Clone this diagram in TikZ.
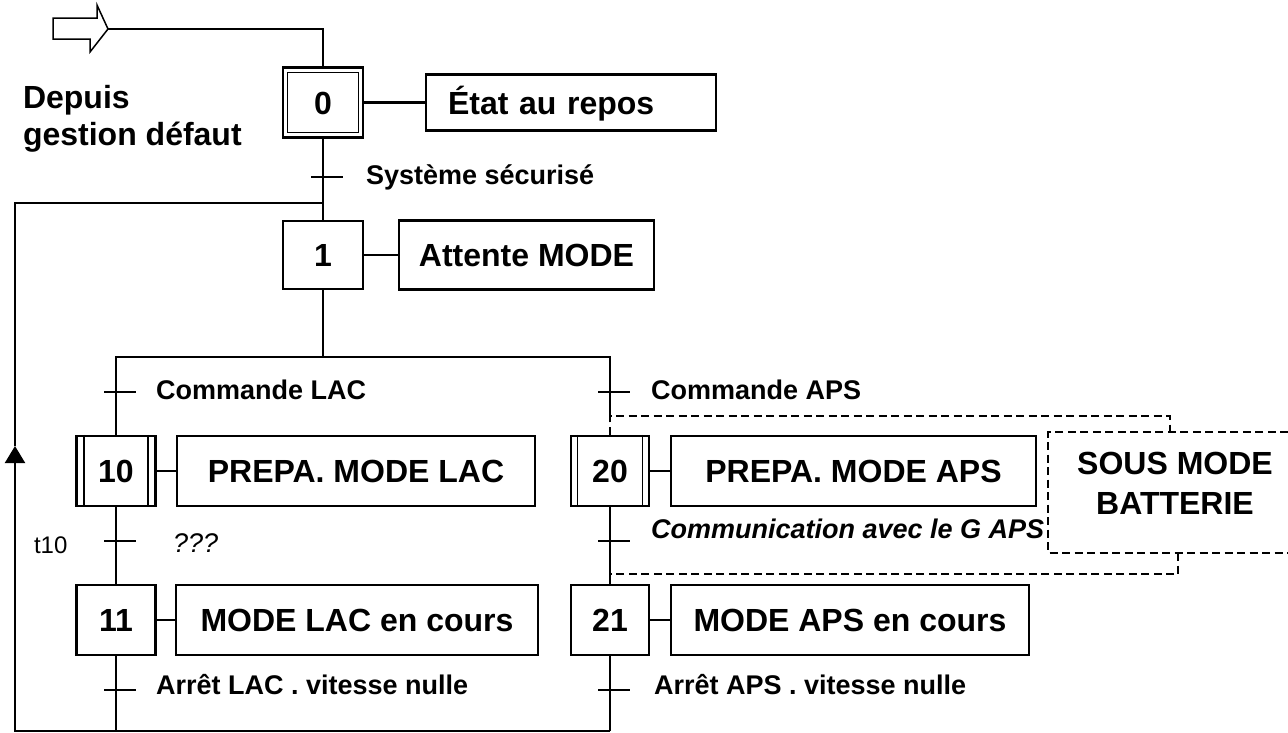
\documentclass[tikz,border=0pt]{standalone}
\usepackage{fontspec}
\setmainfont{Liberation Sans}
\usetikzlibrary{arrows.meta}
\begin{document}
\begin{tikzpicture}[x=1pt,y=-1pt,line width=2.1pt,
  bigfont/.style={font=\fontsize{32}{36}\selectfont\bfseries},
  stepbox/.style={draw,bigfont,minimum width=79pt,minimum height=70pt,inner sep=0pt,text height=23pt,text depth=0pt},
  actbox/.style={draw,bigfont,minimum height=70pt,inner sep=0pt,text height=23pt,text depth=0pt},
  cond/.style={anchor=base west,inner sep=0pt,font=\fontsize{27}{30}\selectfont\bfseries},
  condit/.style={cond,font=\fontsize{27}{30}\selectfont\bfseries\itshape},
  note/.style={anchor=base west,inner sep=0pt,bigfont},
  encl/.style={line width=1.7pt,dash pattern=on 8pt off 4.5pt},
  trans/.style={line width=1.8pt}]
\useasboundingbox (0,0) rectangle (1288,732);

% steps
\node[stepbox,minimum width=80pt] (s0) at (323,102.5) {0};
\node[stepbox,minimum width=80pt,minimum height=68pt] (s1) at (323,255) {1};
\node[stepbox] (s10) at (116,471) {10};
\node[stepbox] (s11) at (116,620) {11};
\node[stepbox,minimum width=78pt] (s20) at (610,471) {20};
\node[stepbox,minimum width=78pt] (s21) at (610,620) {21};

% initial step: inner frame
\draw[line width=1.6pt] ([shift={(5.5pt,-6pt)}]s0.north west) rectangle ([shift={(-5.5pt,6pt)}]s0.south east);
% macro-steps: inner vertical bars
\foreach \s/\d in {s10/8.5,s20/7.5}{
  \draw[line width=1.5pt] ([xshift=\d pt]\s.north west) -- ([xshift=\d pt]\s.south west);
  \draw[line width=1.5pt] ([xshift=-\d pt]\s.north east) -- ([xshift=-\d pt]\s.south east);
}

% actions
\node[actbox,minimum height=56pt,text width=246pt,align=left,inner xsep=22pt] (etat) at (571,102.5) {État au repos};
\node[actbox,minimum width=255pt,minimum height=69pt] (attente) at (526.5,255) {Attente MODE};
\node[actbox,minimum width=358pt] (prepaLAC) at (356,471) {PREPA. MODE LAC};
\node[actbox,minimum width=365pt] (prepaAPS) at (853.5,471) {PREPA. MODE APS};
\node[actbox,minimum width=362pt] (lacCours) at (357,620) {MODE LAC en cours};
\node[actbox,minimum width=358pt] (apsCours) at (850,620) {MODE APS en cours};

\foreach \a/\b in {s0/etat,s1/attente,s10/prepaLAC,s20/prepaAPS,s11/lacCours,s21/apsCours}
  \draw (\a.east) -- (\b.west);

% entry from fault handling
\draw[line width=1.5pt,line join=miter] (53,18) -- (97,18) -- (97,5) -- (108,29) -- (90,52) -- (90,39) -- (53,39) -- cycle;
\coordinate (entry) at (108,29);
\node[note] (dep1) at (22,108) {Depuis};
\node[note] (dep2) at (22,145) {gestion défaut};
\draw (entry) -| (s0.north);

% main sequence
\coordinate (jm) at (323,203);
\coordinate (orJ) at (323,357);
\coordinate (dtop) at (610,416);
\coordinate (bL) at (15,731);
\coordinate (bR) at (610,731);
\coordinate (ah) at (15,446);
\coordinate (lT) at (15,203);

\draw (s0.south) -- (s1.north);
\draw (s1.south) -- (orJ);
\draw (s10.north) |- (orJ) -| (dtop);
\draw (s10.south) -- (s11.north);
\draw (s20.south) -- (s21.north);
\draw (s11.south) -- (s11.south |- bR);
\draw (s21.south) -- (bR);
\draw[-{Triangle[length=17pt,width=20pt]}] (bR) -- (bL) -- (ah);
\draw (ah) -- (lT) -- (jm);

% transitions
\coordinate (t0) at (323,177);
\coordinate (t10a) at (116,392);
\coordinate (t20a) at (610,392);
\coordinate (t10b) at (116,541);
\coordinate (t20b) at (610,541);
\coordinate (t11) at (116,690);
\coordinate (t21) at (610,690);
\foreach \t in {t0,t10a,t20a,t10b,t20b,t11,t21}
  \draw[trans] ([xshift=-12pt]\t) -- ([xshift=20pt]\t);

% receptivities
\node[cond] (r0) at (365,184) {Système sécurisé};
\node[cond] (r10a) at (155,399) {Commande LAC};
\node[cond] (r20a) at (650,399) {Commande APS};
\node[anchor=base west,inner sep=0pt,font=\fontsize{24}{28}\selectfont] (tt) at (33,553) {t10};
\node[anchor=base west,inner sep=0pt,font=\fontsize{27}{30}\selectfont\itshape] (r10b) at (172,552) {???};
\node[condit] (r20b) at (650,538) {Communication avec le G APS};
\node[cond] (r11) at (155,694) {Arrêt LAC . vitesse nulle};
\node[cond] (r21) at (653,694) {Arrêt APS . vitesse nulle};

% battery sub-mode enclosure
\draw[encl] (s20.north) -- (dtop) -- (1170,416) -- (1170,432);
\draw[encl] (1288,432) -- (1048,432) -- (1048,553) -- (1288,553);
\draw[encl] (1178,553) -- (1178,574) -- (610,574);
\node[align=center,inner sep=0pt,font=\fontsize{32}{40}\selectfont\bfseries] (sous) at (1175,483) {SOUS MODE\\BATTERIE};
\end{tikzpicture}
\end{document}
